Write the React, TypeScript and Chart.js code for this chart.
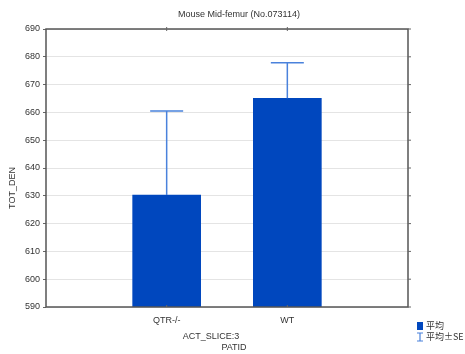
import React, { useEffect, useRef } from "react";
import { Chart, registerables } from "chart.js";

Chart.register(...registerables);

const categories = ["QTR-/-", "WT"];
const means = [630.3, 665.1];
const ses = [30.2, 12.8];
const yTicks = [590, 600, 610, 620, 630, 640, 650, 660, 670, 680, 690];

const titleText = "Mouse Mid-femur (No.073114)";
const yTitle = "TOT_DEN";
const xTitle1 = "ACT_SLICE:3";
const xTitle2 = "PATID";
const legendMean = "平均";
const legendSE = "平均±SE";

const BAR = "#0047BE";
const ERR = "#4A82DC";
const FONT = "'Liberation Sans', 'Noto Sans CJK JP', sans-serif";

export default function App() {
  const ref = useRef<HTMLCanvasElement | null>(null);

  useEffect(() => {
    if (!ref.current) return;
    const labels = ["", ...categories, ""];
    const data = [null, ...means, null];
    const seArr = [null, ...ses, null];

    const extras = {
      id: "extras",
      afterDraw(chart: any) {
        const ctx = chart.ctx;
        const a = chart.chartArea;
        const ys = chart.scales.y;
        const xs = chart.scales.x;
        ctx.save();
        // frame
        ctx.strokeStyle = "#555";
        ctx.lineWidth = 1.5;
        ctx.strokeRect(a.left, a.top, a.right - a.left, a.bottom - a.top);
        // top & right tick marks
        ctx.lineWidth = 1;
        ctx.strokeStyle = "#666";
        for (let i = 1; i <= categories.length; i++) {
          const x = xs.getPixelForValue(i);
          ctx.beginPath();
          ctx.moveTo(x, a.top - 2);
          ctx.lineTo(x, a.top + 2);
          ctx.stroke();
          ctx.beginPath();
          ctx.moveTo(x, a.bottom - 2);
          ctx.lineTo(x, a.bottom);
          ctx.stroke();
        }
        for (const t of yTicks) {
          const y = ys.getPixelForValue(t);
          ctx.beginPath();
          ctx.moveTo(a.right, y);
          ctx.lineTo(a.right + 3, y);
          ctx.stroke();
        }
        // texts
        ctx.fillStyle = "#333";
        ctx.font = `9px ${FONT}`;
        ctx.textAlign = "center";
        ctx.textBaseline = "middle";
        ctx.fillText(titleText, 239, 15);
        ctx.fillText(xTitle1, 211, 337);
        ctx.fillText(xTitle2, 234, 348);
        ctx.save();
        ctx.translate(13, 188);
        ctx.rotate(-Math.PI / 2);
        ctx.fillText(yTitle, 0, 0);
        ctx.restore();
        // legend
        ctx.fillStyle = BAR;
        ctx.fillRect(417, 322, 6, 8);
        ctx.strokeStyle = ERR;
        ctx.lineWidth = 1.2;
        ctx.beginPath();
        ctx.moveTo(420, 333);
        ctx.lineTo(420, 341);
        ctx.moveTo(417, 333);
        ctx.lineTo(423, 333);
        ctx.moveTo(417, 341);
        ctx.lineTo(423, 341);
        ctx.stroke();
        ctx.fillStyle = "#333";
        ctx.textAlign = "left";
        ctx.font = `9px 'Noto Sans CJK JP', sans-serif`;
        ctx.fillText(legendMean, 426, 326);
        ctx.fillText(legendSE, 426, 337);
        ctx.restore();
      },
      afterDatasetsDraw(chart: any) {
        const ctx = chart.ctx;
        const ys = chart.scales.y;
        const meta = chart.getDatasetMeta(0);
        ctx.save();
        ctx.strokeStyle = ERR;
        ctx.lineWidth = 1.5;
        data.forEach((v, i) => {
          if (v == null || seArr[i] == null) return;
          const x = meta.data[i].x;
          const y0 = ys.getPixelForValue(v);
          const y1 = ys.getPixelForValue((v as number) + (seArr[i] as number));
          ctx.beginPath();
          ctx.moveTo(x, y0);
          ctx.lineTo(x, y1);
          ctx.moveTo(x - 16.5, y1);
          ctx.lineTo(x + 16.5, y1);
          ctx.stroke();
        });
        ctx.restore();
      },
    };

    const chart = new Chart(ref.current, {
      type: "bar",
      data: {
        labels,
        datasets: [
          {
            data: data as any,
            backgroundColor: BAR,
            borderWidth: 0,
            barThickness: 68,
          },
        ],
      },
      options: {
        animation: false,
        responsive: false,
        maintainAspectRatio: false,
        layout: { padding: { top: 29, right: 57, left: 0, bottom: 0 } },
        plugins: {
          legend: { display: false },
          title: { display: false },
          tooltip: { enabled: false },
        },
        scales: {
          x: {
            offset: false,
            grid: { display: false, offset: false },
            border: { display: false },
            ticks: {
              color: "#333",
              font: { size: 9, family: FONT },
              padding: 0,
              maxRotation: 0,
              autoSkip: false,
            },
            afterFit(s: any) {
              s.height = 47;
            },
          },
          y: {
            min: 590,
            max: 690,
            afterBuildTicks(s: any) {
              s.ticks = yTicks.map((v) => ({ value: v }));
            },
            grid: {
              color: "#e4e4e4",
              tickColor: "#666",
              tickLength: 3,
              drawTicks: true,
            },
            border: { display: false },
            ticks: {
              color: "#333",
              font: { size: 9, family: FONT },
              padding: 3,
            },
            afterFit(s: any) {
              s.width = 46;
            },
          },
        },
      },
      plugins: [extras],
    });
    return () => chart.destroy();
  }, []);

  return (
    <div style={{ position: "absolute", left: 0, top: 0, width: 465, height: 354, background: "#fff" }}>
      <canvas ref={ref} width={465} height={354} style={{ width: 465, height: 354 }} />
    </div>
  );
}
